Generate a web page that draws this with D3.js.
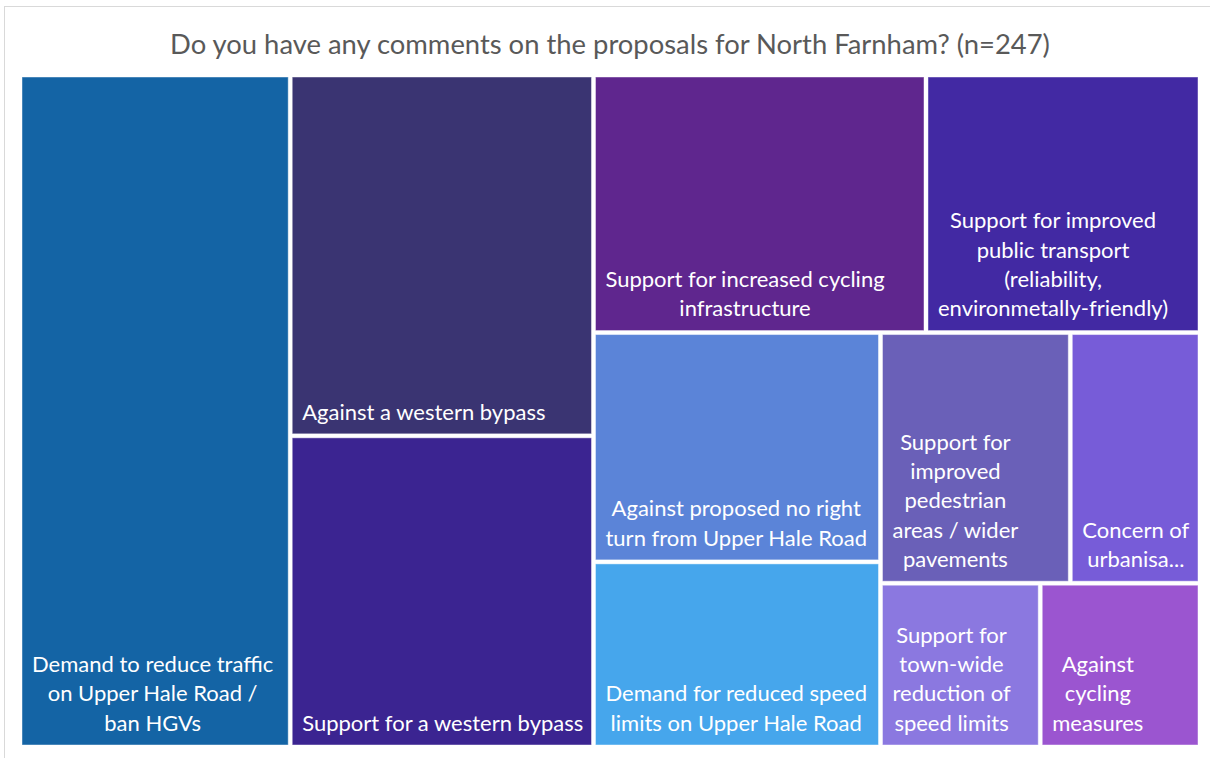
<!DOCTYPE html>
<html>
<head>
<meta charset="utf-8">
<script src="https://cdn.jsdelivr.net/npm/d3@7"></script>
<style>
  body { margin: 0; background: #fff; }
  svg { display: block; }
  text { font-family: Lato, "Open Sans", sans-serif; }
</style>
</head>
<body>
<div id="chart"></div>
<script>
const title = "Do you have any comments on the proposals for North Farnham? (n=247)"

const categories = [
  "Demand to reduce traffic on Upper Hale Road / ban HGVs",
  "Against a western bypass",
  "Support for a western bypass",
  "Support for increased cycling infrastructure",
  "Support for improved public transport (reliability, environmetally-friendly)",
  "Against proposed no right turn from Upper Hale Road",
  "Demand for reduced speed limits on Upper Hale Road",
  "Support for improved pedestrian areas / wider pavements",
  "Concern of urbanisation",
  "Support for town-wide reduction of speed limits",
  "Against cycling measures"
]

// share of comments (%)
const values = [22.9, 13.8, 11.9, 10.8, 8.9, 8.3, 6.7, 6.0, 4.1, 3.3, 3.3]

// label text as it wraps in the picture
const labelLines = [
  ["Demand to reduce traffic", "on Upper Hale Road /", "ban HGVs"],
  ["Against a western bypass"],
  ["Support for a western bypass"],
  ["Support for increased cycling", "infrastructure"],
  ["Support for improved", "public transport", "(reliability,", "environmetally-friendly)"],
  ["Against proposed no right", "turn from Upper Hale Road"],
  ["Demand for reduced speed", "limits on Upper Hale Road"],
  ["Support for", "improved", "pedestrian", "areas / wider", "pavements"],
  ["Concern of", "urbanisa..."],
  ["Support for", "town-wide", "reduction of", "speed limits"],
  ["Against", "cycling", "measures"]
]

const colors = [
  "#1464a5", "#3a3472", "#3b2491", "#5f268e", "#4229a3", "#5b84d8",
  "#46a6ec", "#6a60b8", "#775cd8", "#8b78e0", "#9b55d0"
]

const width = 1210
const height = 758
const area = {x: 22, y: 77, w: 1176, h: 668}

// how many cells go in each strip, laid along the shorter side of what is left
const stripSizes = [1, 2, 2, 2, 2, 1, 1]

function stripTile(parent, x0, y0, x1, y1) {
  const nodes = parent.children
  let value = parent.value
  let i = 0
  for (const size of stripSizes) {
    const row = {children: nodes.slice(i, i + size)}
    if (!row.children.length) break
    row.value = d3.sum(row.children, d => d.value)
    const dx = x1 - x0, dy = y1 - y0
    if (dx >= dy) {
      const xe = x0 + dx * row.value / value
      d3.treemapSlice(row, x0, y0, xe, y1)
      x0 = xe
    } else {
      const ye = y0 + dy * row.value / value
      d3.treemapDice(row, x0, y0, x1, ye)
      y0 = ye
    }
    value -= row.value
    i += size
  }
}

const data = categories.map((name, i) => ({
  name: name,
  value: values[i],
  lines: labelLines[i],
  color: colors[i]
}))

const root = d3.hierarchy({children: data})
  .sum(d => d.value || 0)

d3.treemap()
  .tile(stripTile)
  .size([area.w, area.h])
  .paddingInner(4)(root)

const svg = d3.select("#chart")
  .append("svg")
  .attr("width", width)
  .attr("height", height)

// chart frame
svg.append("rect")
  .attr("x", 4.5)
  .attr("y", 6.5)
  .attr("width", width + 20)
  .attr("height", height + 20)
  .attr("fill", "none")
  .attr("stroke", "#d9d9d9")

svg.append("text")
  .attr("x", 610)
  .attr("y", 44)
  .attr("dy", "0.35em")
  .attr("text-anchor", "middle")
  .attr("fill", "#595959")
  .style("font-size", "27.4px")
  .text(title)

const cells = svg.append("g")
  .attr("transform", `translate(${area.x},${area.y})`)
  .selectAll("g")
  .data(root.leaves())
  .join("g")

cells.append("rect")
  .attr("x", d => d.x0)
  .attr("y", d => d.y0)
  .attr("width", d => d.x1 - d.x0)
  .attr("height", d => d.y1 - d.y0)
  .attr("fill", d => d.data.color)
  .attr("stroke", "rgba(255,255,255,0.45)")
  .attr("stroke-width", 1)

const lineGap = 29.3

cells.each(function(d) {
  const g = d3.select(this)
  const label = g.append("text")
    .attr("fill", "#fff")
    .attr("text-anchor", "middle")
    .style("font-size", "22px")
  const n = d.data.lines.length
  const spans = label.selectAll("tspan")
    .data(d.data.lines)
    .join("tspan")
    .attr("y", (t, i) => d.y1 - 22 - (n - 1 - i) * lineGap)
    .attr("dy", "0.35em")
    .text(t => t)
  let blockW = 0
  spans.each(function() { blockW = Math.max(blockW, this.getComputedTextLength()) })
  spans.attr("x", d.x0 + 10 + blockW / 2)
})
</script>
</body>
</html>
